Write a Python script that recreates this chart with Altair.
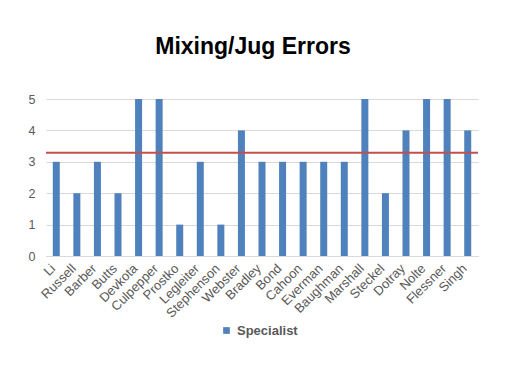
import altair as alt
import pandas as pd

names = ["Li", "Russell", "Barber", "Butts", "Devkota", "Culpepper", "Prostko",
         "Legleiter", "Stephenson", "Webster", "Bradley", "Bond", "Cahoon",
         "Everman", "Baughman", "Marshall", "Steckel", "Dotray", "Nolte",
         "Flessner", "Singh"]
errors = [3, 2, 3, 2, 5, 5, 1, 3, 1, 4, 3, 3, 3, 3, 3, 5, 2, 4, 5, 5, 4]
average = [3.29]
series = ["Specialist"]
y_ticks = [0, 1, 2, 3, 4, 5]

df = pd.DataFrame({"name": names, "errors": errors, "series": series * len(names)})
avg_df = pd.DataFrame({"avg": average})

W, H = 432, 157

y_axis = alt.Axis(values=y_ticks, labelFont="Liberation Sans", labelFontSize=12.5,
                  labelColor="#595959", ticks=False, domain=False,
                  gridColor="#d9d9d9", labelPadding=11, tickCount=6)
y_scale = alt.Scale(domain=[0, 5], nice=False)

bars = alt.Chart(df).mark_bar(size=7).encode(
    x=alt.X("name:N", sort=names, title=None,
            scale=alt.Scale(paddingInner=0, paddingOuter=0),
            axis=alt.Axis(labelAngle=-45, labelFont="Liberation Sans", labelFontSize=13,
                          labelColor="#595959", ticks=False, domainColor="#d9d9d9",
                          labelPadding=10, labelOffset=-3, labelAlign="right",
                          labelBaseline="middle")),
    y=alt.Y("errors:Q", title=None, scale=y_scale, axis=y_axis),
    color=alt.Color("series:N", scale=alt.Scale(range=["#4F81BD"]), title=None,
                    legend=alt.Legend(orient="none", legendX=174, legendY=225,
                                      symbolType="square", symbolSize=45,
                                      labelFont="Liberation Sans", labelFontSize=13,
                                      labelFontWeight="bold", labelColor="#595959",
                                      symbolStrokeWidth=0)),
)

rule = alt.Chart(avg_df).mark_rule(color="#C0504D", strokeWidth=2).encode(
    y=alt.Y("avg:Q", title=None, scale=y_scale, axis=y_axis)
)

chart = alt.layer(bars, rule).properties(
    width=W, height=H,
    title=alt.TitleParams("Mixing/Jug Errors", font="Liberation Sans", fontSize=23,
                          fontWeight="bold", color="#000000", anchor="middle",
                          dx=-9, offset=34),
    autosize=alt.AutoSizeParams(type="none"),
    padding={"left": 38, "top": 91, "right": 26, "bottom": 120},
).configure_view(stroke=None)

chart.save("out.html", embed_options={"renderer": "svg", "actions": False})
